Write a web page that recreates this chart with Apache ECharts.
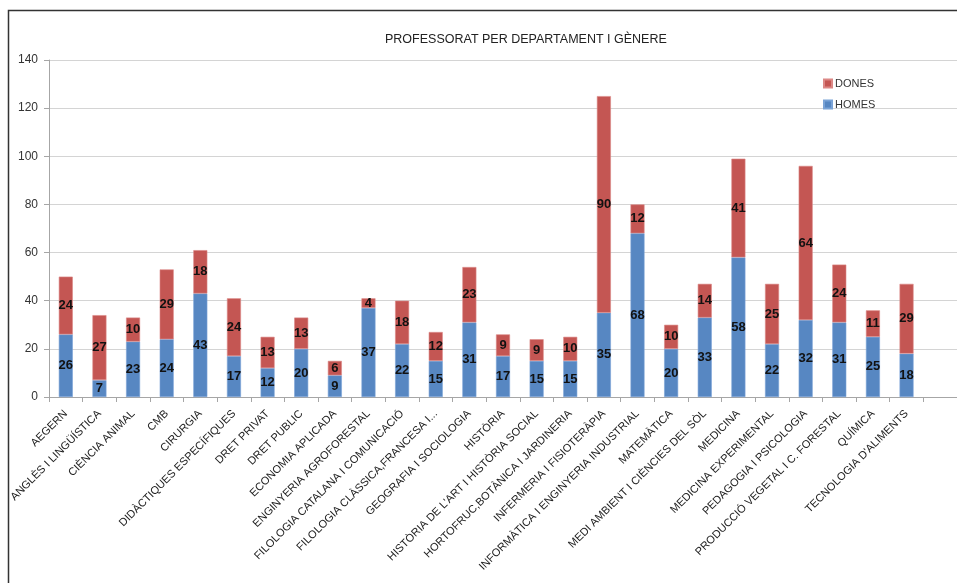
<!DOCTYPE html>
<html>
<head>
<meta charset="utf-8">
<script src="https://cdn.jsdelivr.net/npm/echarts@6/dist/echarts.min.js"></script>
<style>
html,body{margin:0;padding:0;background:#fff;}
#chart{width:957px;height:583px;}
</style>
</head>
<body>
<div id="chart"></div>
<script>
const categories = [
  "AEGERN", "ANGLÈS I LINGÜÍSTICA", "CIÈNCIA ANIMAL", "CMB", "CIRURGIA",
  "DIDÀCTIQUES ESPECÍFIQUES", "DRET PRIVAT", "DRET PUBLIC", "ECONOMIA APLICADA",
  "ENGINYERIA AGROFORESTAL", "FILOLOGIA CATALANA I COMUNICACIÓ",
  "FILOLOGIA CLÀSSICA,FRANCESA I...", "GEOGRAFIA I SOCIOLOGIA", "HISTÒRIA",
  "HISTÒRIA DE L'ART I HISTÒRIA SOCIAL", "HORTOFRUC,BOTÀNICA I JARDINERIA",
  "INFERMERIA I FISIOTERÀPIA", "INFORMÀTICA I ENGINYERIA INDUSTRIAL",
  "MATEMÀTICA", "MEDI AMBIENT I CIÈNCIES DEL SÒL", "MEDICINA",
  "MEDICINA EXPERIMENTAL", "PEDAGOGIA I PSICOLOGIA",
  "PRODUCCIÓ VEGETAL I C. FORESTAL", "QUÍMICA", "TECNOLOGIA D'ALIMENTS", ""
];
const homes = [26, 7, 23, 24, 43, 17, 12, 20, 9, 37, 22, 15, 31, 17, 15, 15, 35, 68, 20, 33, 58, 22, 32, 31, 25, 18, null];
const dones = [24, 27, 10, 29, 18, 24, 13, 13, 6, 4, 18, 12, 23, 9, 9, 10, 90, 12, 10, 14, 41, 25, 64, 24, 11, 29, null];
const yTicks = { min: 0, max: 140, interval: 20 };
const titleText = "PROFESSORAT PER DEPARTAMENT I GÈNERE";

const FONT = "'Liberation Sans', Arial, sans-serif";
const chart = echarts.init(document.getElementById('chart'), null, {renderer: 'canvas'});
const labelStyle = {
  show: true, position: 'inside', color: '#111', fontWeight: 'bold',
  fontSize: 13, fontFamily: FONT,
  formatter: p => (p.value == null ? '' : p.value)
};
chart.setOption({
  animation: false,
  backgroundColor: '#fff',
  graphic: [{
    type: 'rect', silent: true,
    shape: {x: 8.5, y: 10.5, width: 1000, height: 1000},
    style: {fill: 'none', stroke: '#333', lineWidth: 1.5}
  }],
  title: {
    text: titleText, left: 380, top: 28,
    textStyle: {fontFamily: FONT, fontSize: 12.5, fontWeight: 'normal', color: '#222'}
  },
  legend: {
    orient: 'vertical', left: 818, top: 73, itemGap: 10,
    itemWidth: 8, itemHeight: 8, icon: 'rect',
    textStyle: {fontFamily: FONT, fontSize: 11, color: '#333', padding: [0,0,0,-2]},
    data: ['DONES', 'HOMES']
  },
  grid: {left: 49, top: 60, width: 912, height: 337, containLabel: false},
  xAxis: {
    type: 'category', data: categories,
    axisLine: {lineStyle: {color: '#a6a6a6'}},
    axisTick: {show: true, alignWithLabel: false, length: 5, lineStyle: {color: '#a6a6a6'}},
    axisLabel: {rotate: 45, interval: 0, fontFamily: FONT, fontSize: 11, color: '#222', margin: 15}
  },
  yAxis: {
    type: 'value', min: yTicks.min, max: yTicks.max, interval: yTicks.interval,
    axisLine: {show: true, lineStyle: {color: '#a6a6a6'}},
    axisTick: {show: true, length: 5, lineStyle: {color: '#a6a6a6'}},
    splitLine: {lineStyle: {color: '#d4d4d4'}},
    axisLabel: {fontFamily: FONT, fontSize: 12, color: '#333', margin: 11}
  },
  series: [
    {
      name: 'HOMES', type: 'bar', stack: 'total', data: homes, barWidth: 14,
      itemStyle: {color: '#5787c2', borderColor: '#7aa3d6', borderWidth: 0.6},
      label: labelStyle
    },
    {
      name: 'DONES', type: 'bar', stack: 'total', data: dones, barWidth: 14,
      itemStyle: {color: '#c45653', borderColor: '#dc8886', borderWidth: 0.6},
      label: labelStyle
    }
  ]
});
</script>
</body>
</html>
